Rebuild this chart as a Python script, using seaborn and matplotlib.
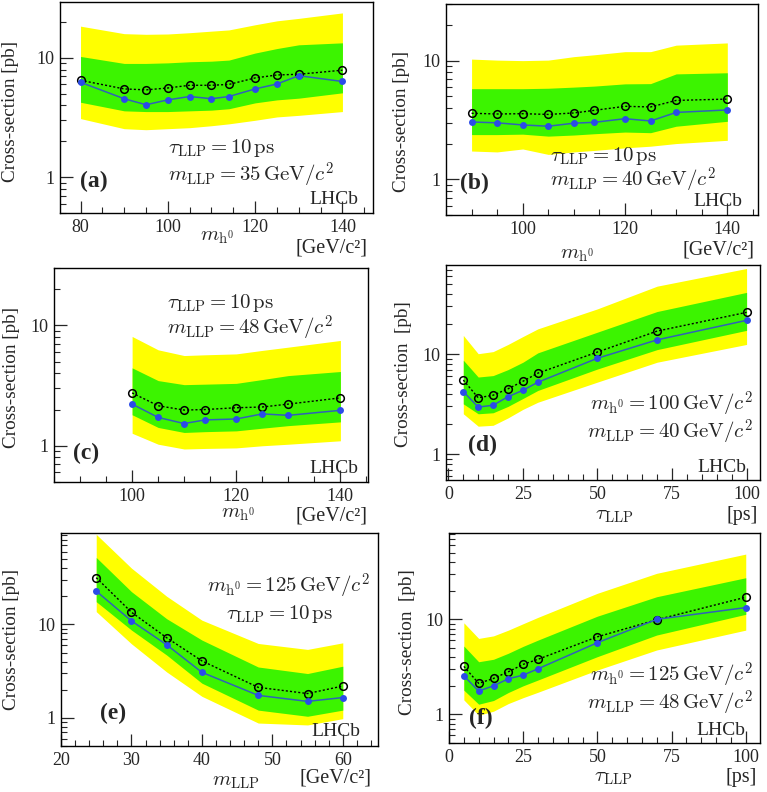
import numpy as np
import pandas as pd
import matplotlib
matplotlib.use("Agg")
import matplotlib.pyplot as plt
import matplotlib.ticker as mticker
import seaborn as sns

# ---------------- data ----------------
# (a) tau=10ps, mLLP=35
x_a = [80, 90, 95, 100, 105, 110, 114, 120, 125, 130, 140]
exp_a = [6.5, 5.5, 5.4, 5.6, 5.9, 5.9, 6.0, 6.8, 7.2, 7.3, 7.9]
obs_a = [6.25, 4.55, 4.05, 4.45, 4.75, 4.55, 4.75, 5.5, 6.05, 7.1, 6.35]
g_hi_a = [10.3, 9.0, 9.0, 9.1, 9.3, 9.4, 9.6, 11.0, 12.0, 12.9, 13.4]
g_lo_a = [4.25, 3.6, 3.55, 3.55, 3.6, 3.65, 3.75, 4.2, 4.45, 4.6, 5.1]
y_hi_a = [18.5, 16.0, 15.8, 15.9, 16.3, 16.8, 17.2, 19.0, 20.5, 21.5, 23.9]
y_lo_a = [3.1, 2.55, 2.5, 2.55, 2.6, 2.7, 2.8, 3.0, 3.2, 3.3, 3.55]

# (b) tau=10ps, mLLP=40
x_b = [90, 95, 100, 105, 110, 114, 120, 125, 130, 140]
exp_b = [3.6, 3.55, 3.57, 3.52, 3.62, 3.81, 4.12, 4.07, 4.62, 4.74]
obs_b = [3.04, 2.99, 2.87, 2.8, 2.97, 3.02, 3.24, 3.1, 3.66, 3.84]
g_hi_b = [5.8, 5.8, 5.8, 5.85, 5.98, 6.1, 6.37, 6.4, 7.73, 7.9]
g_lo_b = [2.38, 2.38, 2.4, 2.31, 2.36, 2.42, 2.5, 2.47, 2.8, 3.08]
y_hi_b = [10.3, 10.1, 10.0, 10.1, 10.8, 11.2, 11.9, 11.9, 13.5, 14.1]
y_lo_b = [1.73, 1.7, 1.8, 1.62, 1.7, 1.75, 1.84, 1.9, 2.0, 2.13]

# (c) tau=10ps, mLLP=48
x_c = [100, 105, 110, 114, 120, 125, 130, 140]
exp_c = [2.75, 2.15, 1.98, 2.0, 2.07, 2.1, 2.22, 2.5]
obs_c = [2.22, 1.72, 1.53, 1.64, 1.67, 1.84, 1.79, 1.97]
g_hi_c = [4.44, 3.48, 3.22, 3.25, 3.3, 3.55, 3.83, 4.14]
g_lo_c = [1.81, 1.42, 1.29, 1.31, 1.33, 1.4, 1.47, 1.58]
y_hi_c = [8.1, 6.27, 5.62, 5.7, 5.8, 6.2, 6.6, 7.5]
y_lo_c = [1.27, 1.03, 0.94, 0.95, 0.96, 1.0, 1.03, 1.1]

# (d) mh0=100, mLLP=40
x_d = [5, 10, 15, 20, 25, 30, 50, 70, 100]
exp_d = [5.5, 3.66, 3.88, 4.5, 5.35, 6.45, 10.5, 17.0, 26.2]
obs_d = [4.22, 2.95, 3.08, 3.75, 4.35, 5.23, 9.1, 13.9, 21.8]
g_hi_d = [8.7, 5.9, 6.1, 7.0, 8.3, 10.3, 16.6, 26.7, 41.5]
g_lo_d = [3.18, 2.53, 2.59, 3.0, 3.6, 4.33, 7.1, 11.1, 17.3]
y_hi_d = [15.4, 10.1, 10.6, 12.5, 15.0, 17.9, 28.4, 47.9, 72.0]
y_lo_d = [2.53, 1.9, 1.94, 2.3, 2.8, 3.3, 5.25, 8.3, 12.5]

# (e) mh0=125, tau=10ps
x_e = [25, 30, 35, 40, 48, 55, 60]
exp_e = [31.6, 13.5, 7.2, 4.07, 2.12, 1.82, 2.19]
obs_e = [22.7, 10.9, 6.05, 3.07, 1.74, 1.5, 1.65]
g_hi_e = [52.0, 22.4, 11.5, 6.8, 3.5, 2.98, 3.57]
g_lo_e = [17.5, 8.7, 4.7, 2.35, 1.21, 1.04, 1.21]
y_hi_e = [92.0, 40.0, 20.0, 11.1, 6.25, 5.4, 6.35]
y_lo_e = [13.7, 6.2, 3.1, 1.7, 0.88, 0.84, 0.98]

# (f) mh0=125, mLLP=48
x_f = [5, 10, 15, 20, 25, 30, 50, 70, 100]
exp_f = [3.2, 2.12, 2.39, 2.81, 3.36, 3.8, 6.55, 9.9, 17.1]
obs_f = [2.55, 1.76, 2.0, 2.37, 2.59, 3.02, 5.68, 10.0, 13.3]
g_hi_f = [5.24, 3.58, 3.8, 4.4, 5.2, 6.05, 10.8, 17.3, 27.4]
g_lo_f = [1.8, 1.28, 1.4, 1.7, 2.0, 2.3, 4.05, 6.84, 11.3]
y_hi_f = [9.2, 6.3, 6.7, 7.7, 9.0, 10.5, 18.8, 30.5, 48.6]
y_lo_f = [1.42, 0.98, 1.08, 1.3, 1.5, 1.71, 2.93, 4.76, 7.7]

panel_labels = ["(a)", "(b)", "(c)", "(d)", "(e)", "(f)"]
ylabel_texts = ["Cross-section [pb]", "Cross-section [pb]", "Cross-section [pb]",
                "Cross-section  [pb]", "Cross-section [pb]", "Cross-section  [pb]"]
xvar_texts = [r"$m_{\rm h^0}$", r"$m_{\rm h^0}$", r"$m_{\rm h^0}$",
              r"$\tau_{\rm LLP}$", r"$m_{\rm LLP}$", r"$\tau_{\rm LLP}$"]
xunit_texts = ["[GeV/c²]", "[GeV/c²]", "[GeV/c²]", "[ps]", "[GeV/c²]", "[ps]"]
ann_texts = [
    [r"$\tau_{\rm LLP} = 10\,{\rm ps}$", r"$m_{\rm LLP} = 35\,{\rm GeV}/c^2$"],
    [r"$\tau_{\rm LLP} = 10\,{\rm ps}$", r"$m_{\rm LLP} = 40\,{\rm GeV}/c^2$"],
    [r"$\tau_{\rm LLP} = 10\,{\rm ps}$", r"$m_{\rm LLP} = 48\,{\rm GeV}/c^2$"],
    [r"$m_{\rm h^0} = 100\,{\rm GeV}/c^2$", r"$m_{\rm LLP} = 40\,{\rm GeV}/c^2$"],
    [r"$m_{\rm h^0} = 125\,{\rm GeV}/c^2$", r"$\tau_{\rm LLP} = 10\,{\rm ps}$"],
    [r"$m_{\rm h^0} = 125\,{\rm GeV}/c^2$", r"$m_{\rm LLP} = 48\,{\rm GeV}/c^2$"],
]

# ---------------- style ----------------
sns.set_style("ticks")
plt.rcParams["font.family"] = ["Liberation Serif", "DejaVu Serif"]
plt.rcParams["mathtext.fontset"] = "cm"

W, H = 767, 792
fig = plt.figure(figsize=(W / 100, H / 100), dpi=100)

YELLOW = "#ffff00"
GREEN = "#3cf400"
BLUE_M = "#2b4ce8"
BLUE_L = "#2f63b8"

datasets = [
    (x_a, exp_a, obs_a, g_hi_a, g_lo_a, y_hi_a, y_lo_a),
    (x_b, exp_b, obs_b, g_hi_b, g_lo_b, y_hi_b, y_lo_b),
    (x_c, exp_c, obs_c, g_hi_c, g_lo_c, y_hi_c, y_lo_c),
    (x_d, exp_d, obs_d, g_hi_d, g_lo_d, y_hi_d, y_lo_d),
    (x_e, exp_e, obs_e, g_hi_e, g_lo_e, y_hi_e, y_lo_e),
    (x_f, exp_f, obs_f, g_hi_f, g_lo_f, y_hi_f, y_lo_f),
]

# pixel rects (left, right, top, bottom)
rects = [(60, 373, 2, 213), (446, 758, 4, 215),
         (54, 368, 268, 482), (446, 760, 265, 480),
         (61, 378, 533, 746), (449, 760, 533, 743)]
xlims = [(75.3, 147), (85, 146), (85, 145.3), (-0.8, 104.5), (20, 65), (0, 104.8)]
ylims = [(0.5, 29.5), (0.5, 30), (0.5, 30), (0.55, 78), (0.5, 95), (0.5, 81)]
xmajor = [20, 20, 20, 25, 10, 25]
xminor = [5, 5, 5, 5, 2, 5]

# annotation positions (axes fraction): (x, y, ha) for each line
ann_pos = [
    [(0.345, 0.308, "left"), (0.345, 0.178, "left")],
    [(0.333, 0.28, "left"), (0.333, 0.162, "left")],
    [(0.36, 0.835, "left"), (0.36, 0.718, "left")],
    [(0.978, 0.35, "right"), (0.978, 0.222, "right")],
    [(0.975, 0.75, "right"), (0.86, 0.62, "right")],
    [(0.977, 0.32, "right"), (0.977, 0.187, "right")],
]
lab_pos = [(0.064, 0.15), (0.045, 0.15), (0.06, 0.135), (0.07, 0.163), (0.123, 0.155), (0.064, 0.119)]
lhcb_pos = [(0.952, 0.062), (0.95, 0.062), (0.968, 0.065), (0.958, 0.06), (0.943, 0.066), (0.952, 0.06)]
ylab_px = [(11, 112), (402, 122), (12, 378), (404, 374), (12, 640), (408, 642)]
# x variable label (x frac centre, y frac) and unit label (right x frac, y frac)
xvar_pos = [(0.50, -0.118), (0.42, -0.19), (0.586, -0.154), (0.535, -0.163), (0.55, -0.169), (0.527, -0.162)]
xunit_pos = [(0.984, -0.166), (0.99, -0.166), (0.997, -0.158), (0.994, -0.163), (0.981, -0.15), (0.99, -0.162)]

for i, (rect, data) in enumerate(zip(rects, datasets)):
    l, r, t, b = rect
    ax = fig.add_axes([l / W, 1 - b / H, (r - l) / W, (b - t) / H])
    xs, ex, ob, ghi, glo, yhi, ylo = data
    ax.fill_between(xs, ylo, yhi, color=YELLOW, lw=0, zorder=1)
    ax.fill_between(xs, glo, ghi, color=GREEN, lw=0, zorder=2)
    df = pd.DataFrame({"x": xs, "exp": ex, "obs": ob})
    sns.lineplot(data=df, x="x", y="exp", ax=ax, color="black", lw=1.0,
                 linestyle=(0, (1.5, 1.5)), marker="o", markersize=5.5,
                 markerfacecolor="none", markeredgecolor="black",
                 markeredgewidth=1.1, zorder=4, estimator=None)
    sns.lineplot(data=df, x="x", y="obs", ax=ax, color=BLUE_L, lw=1.1,
                 marker="o", markersize=5, markerfacecolor=BLUE_M,
                 markeredgecolor=BLUE_M, markeredgewidth=0, zorder=5, estimator=None)
    ax.set_yscale("log")
    ax.set_xlim(*xlims[i])
    ax.set_ylim(*ylims[i])
    ax.set_xlabel("")
    ax.set_ylabel("")
    ax.xaxis.set_major_locator(mticker.MultipleLocator(xmajor[i]))
    ax.xaxis.set_minor_locator(mticker.MultipleLocator(xminor[i]))
    ax.yaxis.set_major_locator(mticker.FixedLocator([1, 10, 100]))
    ax.yaxis.set_major_formatter(mticker.FixedFormatter(["1", "10", "100"]))
    ax.yaxis.set_minor_locator(mticker.LogLocator(base=10, subs=np.arange(2, 10)))
    ax.yaxis.set_minor_formatter(mticker.NullFormatter())
    ax.tick_params(axis="both", which="major", direction="in", length=9, width=0.9,
                   labelsize=13, top=False, right=False, pad=4)
    ax.tick_params(axis="both", which="minor", direction="in", length=4.5, width=0.8,
                   top=False, right=False)
    for sp in ax.spines.values():
        sp.set_color("black")
        sp.set_linewidth(1.0)
        sp.set_visible(True)
    for txt, (px, py, ha) in zip(ann_texts[i], ann_pos[i]):
        ax.text(px, py, txt, transform=ax.transAxes, ha=ha, va="center",
                fontsize=15, zorder=6)
    ax.text(lab_pos[i][0], lab_pos[i][1], panel_labels[i], transform=ax.transAxes,
            ha="left", va="center", fontsize=17, fontweight="bold", zorder=6)
    ax.text(lhcb_pos[i][0], lhcb_pos[i][1], "LHCb", transform=ax.transAxes,
            ha="right", va="center", fontsize=14, zorder=6)
    ax.text(xvar_pos[i][0], xvar_pos[i][1], xvar_texts[i], transform=ax.transAxes,
            ha="center", va="center", fontsize=15)
    ax.text(xunit_pos[i][0], xunit_pos[i][1], xunit_texts[i], transform=ax.transAxes,
            ha="right", va="center", fontsize=14.5)
    fig.text(ylab_px[i][0] / W, 1 - ylab_px[i][1] / H, ylabel_texts[i],
             rotation=90, ha="center", va="center", fontsize=13.8)

fig.savefig("out.png", dpi=100)
